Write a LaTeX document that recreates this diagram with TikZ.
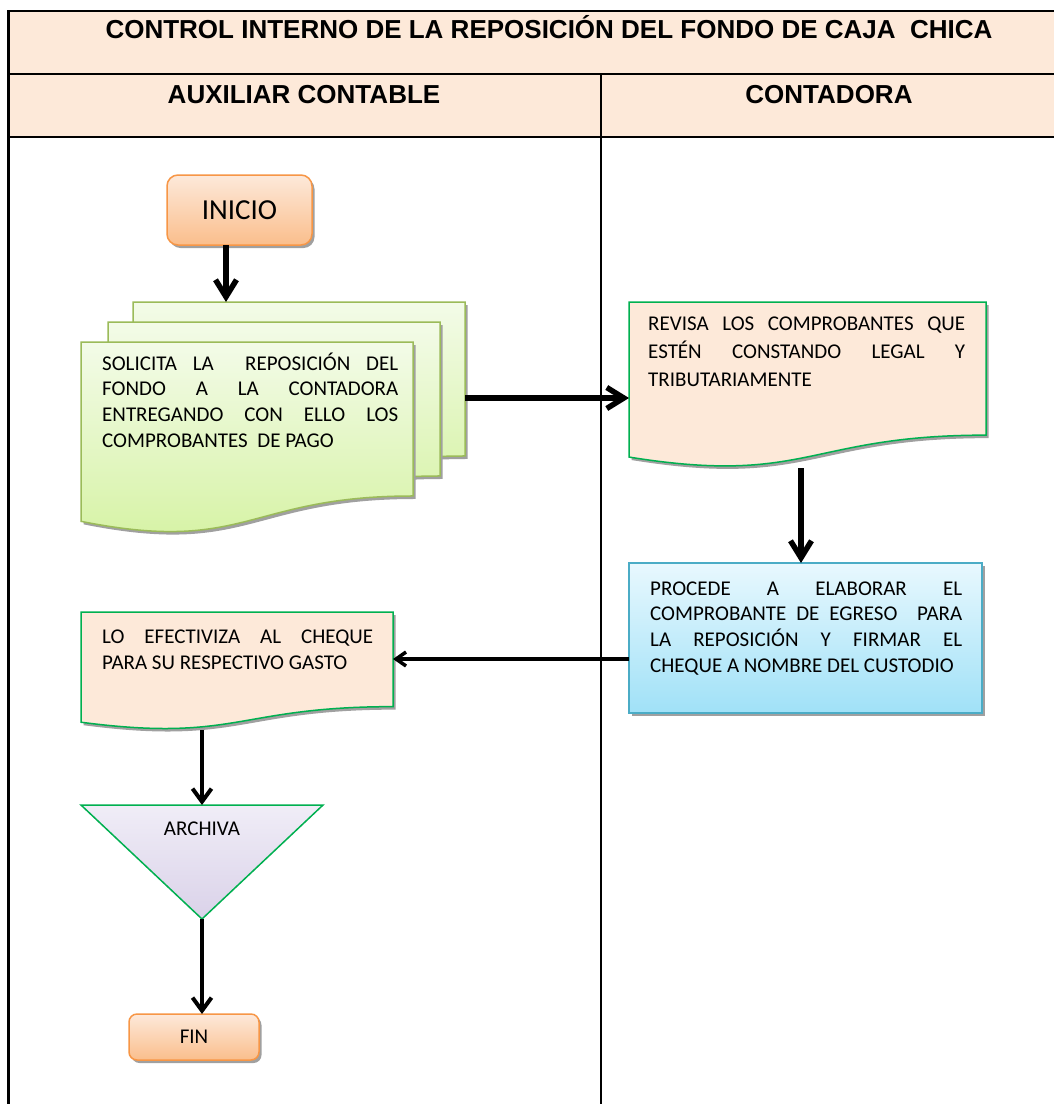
\documentclass[tikz,border=0pt]{standalone}
\usepackage{fontspec}
\setmainfont{Carlito}
\newfontfamily\arialfont{Liberation Sans}
\usetikzlibrary{arrows.meta}
\usetikzlibrary{calc}

\hyphenpenalty=10000
\exhyphenpenalty=10000

\definecolor{peach}{RGB}{253,233,217}
\definecolor{leafline}{RGB}{155,187,89}
\definecolor{leaftop}{RGB}{243,251,232}
\definecolor{leafbot}{RGB}{212,242,160}
\definecolor{docline}{RGB}{0,176,80}
\definecolor{skytop}{RGB}{232,248,254}
\definecolor{skybot}{RGB}{160,225,247}
\definecolor{skyline}{RGB}{75,172,198}
\definecolor{orangetop}{RGB}{253,233,218}
\definecolor{orangebot}{RGB}{250,190,140}
\definecolor{orangeline}{RGB}{247,150,70}
\definecolor{lilactop}{RGB}{240,237,247}
\definecolor{lilacbot}{RGB}{218,210,233}
\definecolor{shadowgray}{RGB}{160,160,160}

% page with wavy bottom, drawn in the box of node #1
\newcommand\docpath[1]{(#1.north west) -- (#1.north east)
  -- ($(#1.north east)!.802!(#1.south east)$)
  .. controls ($(#1.north)!.802!(#1.south)$) and ($(#1.north)!1.1075!(#1.south)$)
  .. ($(#1.north west)!.934!(#1.south west)$) -- cycle}

\begin{document}
\begin{tikzpicture}[
  x=1pt, y=-1pt,
  >={Straight Barb[length=17pt,width=21pt]},
  shadowed/.style={preaction={fill=shadowgray,transform canvas={shift={(2.5pt,-3pt)}}}},
  box/.style={rectangle,inner sep=0pt,outer sep=0pt},
  terminal/.style={box,rounded corners=11pt,draw=orangeline,line width=1.5pt,
    top color=orangetop,bottom color=orangebot,shadowed},
  process/.style={box,draw=skyline,line width=1.5pt,top color=skytop,bottom color=skybot,shadowed},
  leafdoc/.style={shadowed,draw=leafline,line width=1.5pt,top color=leaftop,bottom color=leafbot},
  peachdoc/.style={shadowed,draw=docline,line width=1.5pt,fill=peach},
  store/.style={draw=docline,line width=1.5pt,top color=lilactop,bottom color=lilacbot},
  txt/.style={inner sep=0pt,font=\fontsize{21pt}{25.7pt}\selectfont},
  para/.style={txt,anchor=base west,align=justify},
  headtxt/.style={inner sep=0pt,anchor=base,font=\arialfont\fontsize{26pt}{31pt}\selectfont\bfseries},
  bigflow/.style={->,line width=5.5pt},
  flow/.style={-{Straight Barb[length=13pt,width=19pt]},line width=4pt}
]
  \useasboundingbox (0,0) rectangle (1054,1104);
  \fill[white] (0,0) rectangle (1054,1104);

  % table frame
  \fill[peach] (8.5,11) rectangle (1065,137);
  \draw[line width=1.5pt] (8.5,11) -- (1065,11);
  \draw[line width=1.5pt] (8.5,74) -- (1065,74);
  \draw[line width=2.5pt] (8.5,137) -- (1065,137);
  \draw[line width=2.5pt] (8.5,10.25) -- (8.5,1110);
  \draw[line width=2pt] (601,74) -- (601,1110);

  \node[headtxt] (title) at (549,38.5) {CONTROL INTERNO DE LA REPOSICIÓN DEL FONDO DE CAJA\ \ CHICA};
  \node[headtxt] (auxiliar) at (304,103) {AUXILIAR CONTABLE};
  \node[headtxt] (contadora) at (829,103) {CONTADORA};

  \node[terminal,minimum width=145pt,minimum height=70pt,font=\fontsize{29pt}{34pt}\selectfont]
    (inicio) at (239.5,210) {INICIO};

  \node[box,minimum width=332pt,minimum height=192pt] (solicita3) at (299,398) {};
  \node[box,minimum width=332pt,minimum height=192pt] (solicita2) at (274,418) {};
  \node[box,minimum width=332pt,minimum height=192pt] (solicita) at (247,438) {};
  \path[leafdoc] \docpath{solicita3};
  \path[leafdoc] \docpath{solicita2};
  \path[leafdoc] \docpath{solicita};
  \node[para,text width=296pt] (solicitatxt) at (102,370)
    {SOLICITA LA\ \ REPOSICIÓN DEL\linebreak FONDO A LA CONTADORA\linebreak
     ENTREGANDO CON ELLO LOS\linebreak COMPROBANTES\ \ DE PAGO};

  \node[box,minimum width=357pt,minimum height=166pt] (revisa) at (807.5,385) {};
  \path[peachdoc] \docpath{revisa};
  \node[para,text width=317pt,font=\fontsize{21pt}{28pt}\selectfont] (revisatxt) at (648,330)
    {REVISA LOS COMPROBANTES QUE\linebreak ESTÉN CONSTANDO LEGAL Y\linebreak TRIBUTARIAMENTE};

  \node[process,minimum width=353pt,minimum height=150pt] (procede) at (805.5,638) {};
  \node[para,text width=312pt] (procedetxt) at (650,595)
    {PROCEDE A ELABORAR EL\linebreak COMPROBANTE DE EGRESO\ \ PARA\linebreak
     LA REPOSICIÓN Y FIRMAR EL\linebreak CHEQUE A NOMBRE DEL CUSTODIO};

  \node[box,minimum width=312pt,minimum height=118pt] (efectiviza) at (237,671) {};
  \path[peachdoc] \docpath{efectiviza};
  \node[para,text width=271pt,font=\fontsize{21pt}{26.7pt}\selectfont] (efectivizatxt) at (102,643)
    {LO EFECTIVIZA AL CHEQUE\linebreak PARA SU RESPECTIVO GASTO};

  \node[box,minimum width=242pt,minimum height=114pt] (archiva) at (202,862) {};
  \path[store] (archiva.north west) -- (archiva.north east) -- (archiva.south) -- cycle;
  \node[txt,anchor=base] (archivatxt) at (202,835) {ARCHIVA};

  \node[terminal,minimum width=130pt,minimum height=46pt,rounded corners=8pt,txt]
    (fin) at (194,1037) {FIN};

  \draw[bigflow] ([xshift=-13.5pt]inicio.south) -- ([xshift=-13.5pt]inicio.south |- solicita3.north);
  \draw[bigflow] (solicita3.east) -- (solicita3.east -| revisa.west);
  \draw[bigflow] ([xshift=-4.5pt]procede.north |- revisa.south) -- ([xshift=-4.5pt]procede.north);
  \draw[line width=3.5pt,-{Straight Barb[length=10pt,width=14pt]}]
    ([yshift=-21pt]procede.west) -- ([yshift=-21pt]procede.west -| efectiviza.east);
  \draw[flow] (archiva.north |- efectiviza.south) -- (archiva.north);
  \draw[flow] (archiva.south) -- (archiva.south |- fin.north);
\end{tikzpicture}
\end{document}
